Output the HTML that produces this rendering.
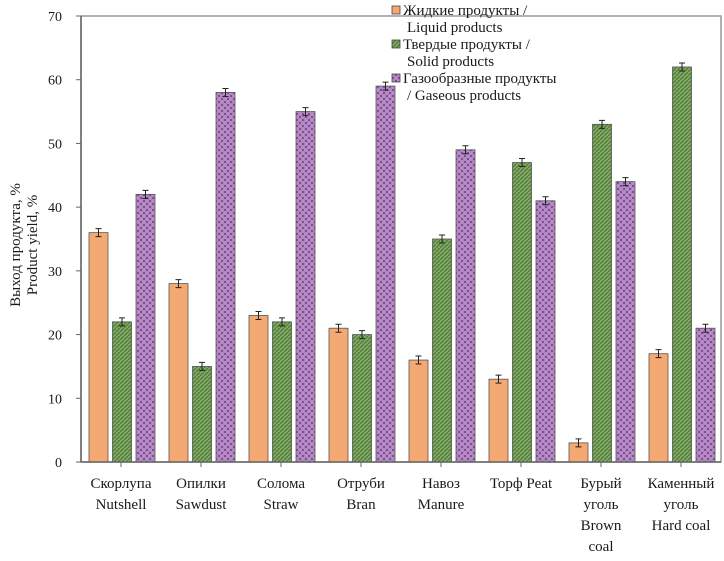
<!DOCTYPE html>
<html><head><meta charset="utf-8"><style>
body{margin:0;background:#fff;}
svg text{font-family:"Liberation Serif","DejaVu Serif",serif;fill:#1a1a1a;}
</style></head><body>
<svg id="c" width="724" height="556" viewBox="0 0 724 556">
<defs>
<pattern id="pg" width="4" height="4" patternUnits="userSpaceOnUse">
<rect width="4" height="4" fill="#7fa862"/><path d="M0,4 L4,0" stroke="#4f7a3a" stroke-width="1.2"/></pattern>
<pattern id="pp" width="6" height="6" patternUnits="userSpaceOnUse">
<rect width="6" height="6" fill="#7d4f8e"/><circle cx="3" cy="3" r="2" fill="#b98cc9"/><circle cx="0" cy="0" r="2" fill="#b98cc9"/><circle cx="6" cy="0" r="2" fill="#b98cc9"/><circle cx="0" cy="6" r="2" fill="#b98cc9"/><circle cx="6" cy="6" r="2" fill="#b98cc9"/></pattern>
</defs>
<rect x="81" y="16" width="640" height="446" fill="none" stroke="#999" stroke-width="1.5"/>
<g id="g"></g>
<text transform="translate(20,245) rotate(-90)" text-anchor="middle" font-size="15">Выход продукта, %</text>
<text transform="translate(37,245) rotate(-90)" text-anchor="middle" font-size="15">Product yield, %</text>
<g font-size="15">
<rect x="392" y="6" width="8" height="8" fill="#f4a973" stroke="#444" stroke-width="0.8"/>
<text x="403" y="15">Жидкие продукты /</text>
<text x="407" y="32">Liquid products</text>
<rect x="392" y="40" width="8" height="8" fill="url(#pg)" stroke="#444" stroke-width="0.8"/>
<text x="403" y="49">Твердые продукты /</text>
<text x="407" y="66">Solid products</text>
<rect x="392" y="74" width="8" height="8" fill="url(#pp)" stroke="#444" stroke-width="0.8"/>
<text x="403" y="83">Газообразные продукты</text>
<text x="407" y="100">/ Gaseous products</text>
</g>
</svg>
<script>
const categoriesRu=["Скорлупа","Опилки","Солома","Отруби","Навоз","Торф Peat","Бурый уголь","Каменный уголь"];
const categoriesEn=[["Nutshell"],["Sawdust"],["Straw"],["Bran"],["Manure"],[],["Brown","coal"],["Hard coal"]];
const liquid=[36,28,23,21,16,13,3,17];
const solid=[22,15,22,20,35,47,53,62];
const gaseous=[42,58,55,59,49,41,44,21];
const yTicks=[0,10,20,30,40,50,60,70];
const NS="http://www.w3.org/2000/svg";
const g=document.getElementById('g');
const x0=81,gw=80,yb=462,yt=16,ymax=70;
function y(v){return yb-(v/ymax)*(yb-yt);}
function mk(t,a){const e=document.createElementNS(NS,t);for(const k in a)e.setAttribute(k,a[k]);g.appendChild(e);return e;}
yTicks.forEach(v=>{
  const l=mk('line',{x1:x0-5,x2:x0,y1:y(v),y2:y(v),stroke:'#666'});
  
  
  const t=mk('text',{x:62,y:y(v)+5,'text-anchor':'end','font-size':14});
  t.textContent=v;
  
  
});
const series=[[liquid,'#f4a973','liquid'],[solid,'url(#pg)','solid'],[gaseous,'url(#pp)','gaseous']];
categoriesRu.forEach((c,i)=>{
  const gx=x0+i*gw;
  series.forEach((s,j)=>{
    const v=s[0][i];const bx=gx+8+j*23.5;
    const r=mk('rect',{x:bx,y:y(v),width:19,height:yb-y(v),fill:s[1],stroke:'#555','stroke-width':0.8});
    
    
    const cx=bx+9.5,ey=y(v);
    const e=mk('path',{d:`M${cx},${ey-4}V${ey+4}M${cx-3},${ey-4}H${cx+3}M${cx-3},${ey+4}H${cx+3}`,stroke:'#222','stroke-width':1,fill:'none'});
    
    
  });
  const tk=mk('line',{x1:gx+gw/2,x2:gx+gw/2,y1:yb,y2:yb+5,stroke:'#666'});
  
  
  let ls=[c].concat(categoriesEn[i]);
  if(c==="Бурый уголь")ls=["Бурый","уголь","Brown","coal"];
  if(c==="Каменный уголь")ls=["Каменный","уголь","Hard coal"];
  ls.forEach((s,k)=>{
    const t=mk('text',{x:gx+gw/2,y:488+k*21,'text-anchor':'middle','font-size':15});
    t.textContent=s;
    
    
  });
});
const xa=mk('line',{x1:x0,x2:721,y1:yb,y2:yb,stroke:'#666','stroke-width':1.5});


const ya=mk('line',{x1:x0,x2:x0,y1:yt,y2:yb,stroke:'#666','stroke-width':1.5});


</script>
</body></html>
